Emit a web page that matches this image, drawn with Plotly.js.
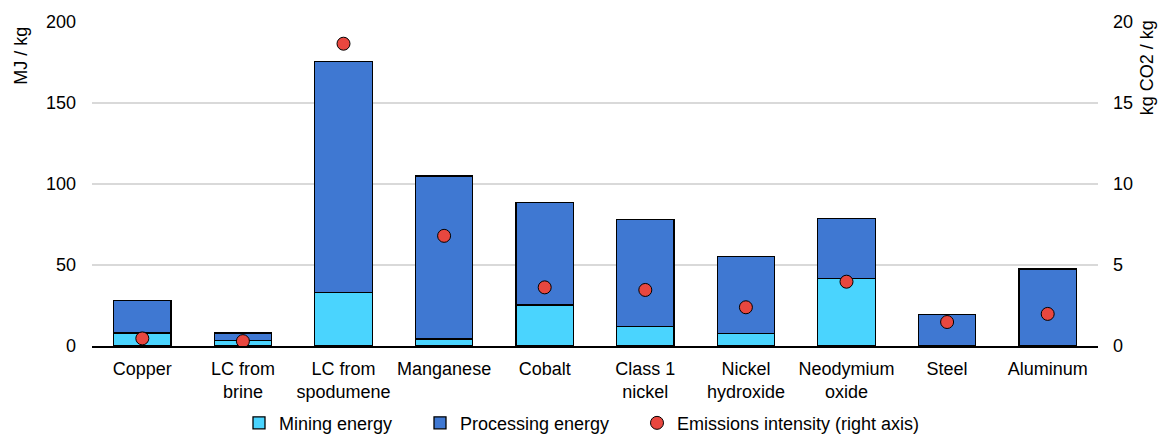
<!DOCTYPE html>
<html>
<head>
<meta charset="utf-8">
<script src="https://cdn.plot.ly/plotly-3.0.1.min.js"></script>
<style>html,body{margin:0;padding:0;background:#fff;}#chart{width:1158px;height:434px;}</style>
</head>
<body>
<div id="chart"></div>
<script>
const categories = ["Copper", "LC from<br>brine", "LC from<br>spodumene", "Manganese", "Cobalt", "Class 1<br>nickel", "Nickel<br>hydroxide", "Neodymium<br>oxide", "Steel", "Aluminum"];
const miningEnergy = [8, 3.3, 32.9, 4.3, 25.3, 11.9, 7.8, 41.5, 0, 0];
const processingEnergy = [20, 4.7, 142.6, 100.7, 63.4, 66.1, 47.3, 37.1, 19.3, 47.5];
const emissionsIntensity = [0.47, 0.3, 18.66, 6.8, 3.62, 3.46, 2.39, 3.97, 1.48, 1.98];

const font = {family: "Liberation Sans, Arial, sans-serif", size: 18, color: "#000"};

const traces = [
  {type: "bar", name: "Mining energy", x: categories, y: miningEnergy, legend: "legend",
   marker: {color: "#4AD4FE", line: {color: "#000", width: 1.3}}},
  {type: "bar", name: "Processing energy", x: categories, y: processingEnergy, legend: "legend2",
   marker: {color: "#3F78D2", line: {color: "#000", width: 1.3}}},
  {type: "scatter", mode: "markers", name: "Emissions intensity (right axis)", x: categories, y: emissionsIntensity,
   yaxis: "y2", legend: "legend3", marker: {color: "#E8473F", size: 13, line: {color: "#000", width: 1}}}
];

function leg(px) {
  return {orientation: "h", xref: "container", x: px / 1158, xanchor: "left", yref: "container", y: 0.025, yanchor: "middle", font: font, itemwidth: 30, bgcolor: "rgba(0,0,0,0)"};
}

const layout = {
  width: 1158, height: 434,
  margin: {l: 92, r: 60, t: 22, b: 88, autoexpand: false},
  paper_bgcolor: "#fff", plot_bgcolor: "#fff",
  font: font,
  barmode: "stack",
  bargap: 0.43,
  showlegend: true,
  legend: leg(239),
  legend2: leg(420),
  legend3: leg(637),
  xaxis: {automargin: false, range: [-0.5, 9.5], showline: true, linecolor: "#000", linewidth: 2, ticks: "", showgrid: false, tickfont: font, ticklabelstandoff: 5},
  yaxis: {automargin: false, range: [0, 200], dtick: 50, showgrid: true, gridcolor: "#d9d9d9", gridwidth: 1.3, zeroline: false, showline: false, ticks: "", tickfont: font, ticklabelstandoff: 15},
  yaxis2: {automargin: false, range: [0, 20], dtick: 5, overlaying: "y", side: "right", showgrid: false, zeroline: false, showline: false, ticks: "", tickfont: font, ticklabelstandoff: 14},
  annotations: [
    {text: "MJ / kg", xref: "paper", yref: "paper", x: -0.0706, y: 0.896, xanchor: "center", yanchor: "middle", textangle: -90, showarrow: false, font: font},
    {text: "kg CO2 / kg", xref: "paper", yref: "paper", x: 1.0487, y: 0.86, xanchor: "center", yanchor: "middle", textangle: -90, showarrow: false, font: font}
  ]
};

Plotly.newPlot("chart", traces, layout, {displayModeBar: false, staticPlot: true});
</script>
</body>
</html>
